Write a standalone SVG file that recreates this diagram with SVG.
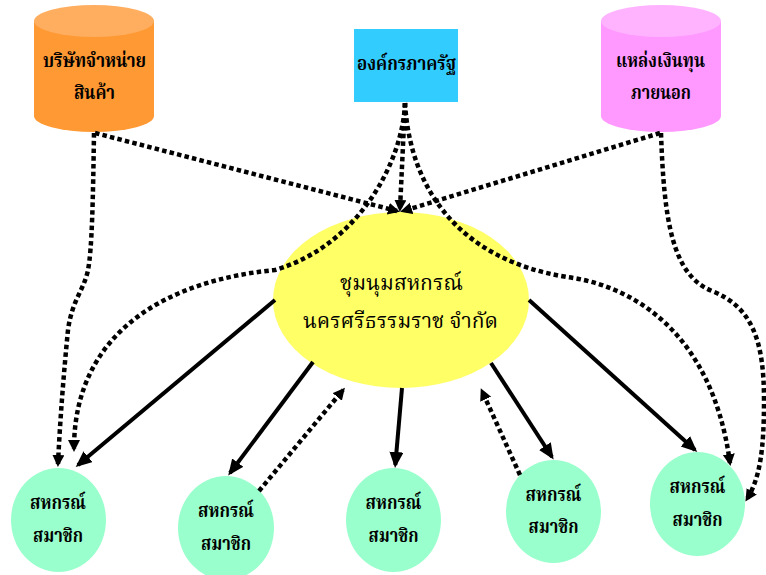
<svg xmlns="http://www.w3.org/2000/svg" width="766" height="575" viewBox="0 0 766 575">
<style>
.t{font-family:"Liberation Serif","Noto Serif Thai","Noto Sans Thai",serif;fill:#000;text-anchor:middle}
.b{font-weight:bold;font-size:20px}
.m{font-size:22px}
.s{fill:none;stroke:#000;stroke-width:4}
.d{fill:none;stroke:#000;stroke-width:4.5;stroke-dasharray:4.5 3.2}
</style>
<defs>
<marker id="as" markerUnits="userSpaceOnUse" markerWidth="18" markerHeight="16" refX="13" refY="7" orient="auto"><path d="M0,0 L16,7 L0,14 z" fill="#000"/></marker>
<marker id="ad" markerUnits="userSpaceOnUse" markerWidth="14" markerHeight="14" refX="9" refY="6" orient="auto"><path d="M0,0 L12,6 L0,12 z" fill="#000"/></marker>
</defs>
<g id="n-distributor">
<path d="M34,21 L34,116 A60,16 0 0 0 154,116 L154,21 z" fill="#FF9933"/>
<ellipse cx="94" cy="21" rx="60" ry="16" fill="#FFAD5E"/>
<text class="t b" x="94.5" y="67" textLength="103" lengthAdjust="spacingAndGlyphs">บริษัทจำหน่าย</text>
<text class="t b" x="94.5" y="99" textLength="41" lengthAdjust="spacingAndGlyphs">สินค้า</text>
</g>
<g id="n-government">
<rect x="354" y="29" width="104" height="73" fill="#33CCFF"/>
<text class="t b" x="406.5" y="70" textLength="99" lengthAdjust="spacingAndGlyphs">องค์กรภาครัฐ</text>
</g>
<g id="n-funding">
<path d="M601,21 L601,116 A60,16 0 0 0 721,116 L721,21 z" fill="#FF99FF"/>
<ellipse cx="661" cy="21" rx="60" ry="16" fill="#FFB3FF"/>
<text class="t b" x="660.5" y="67" textLength="89" lengthAdjust="spacingAndGlyphs">แหล่งเงินทุน</text>
<text class="t b" x="661" y="99" textLength="60" lengthAdjust="spacingAndGlyphs">ภายนอก</text>
</g>
<g id="n-federation">
<ellipse cx="401" cy="300" rx="128" ry="88" fill="#FFFF66"/>
<text class="t m" x="401.5" y="290" textLength="123" lengthAdjust="spacingAndGlyphs">ชุมนุมสหกรณ์</text>
<text class="t m" x="400.5" y="328" textLength="195" lengthAdjust="spacingAndGlyphs">นครศรีธรรมราช จำกัด</text>
</g>
<g id="n-member1">
<ellipse cx="58.5" cy="520" rx="47.5" ry="52" fill="#99FFCC"/>
<text class="t b" x="58" y="509" textLength="56" lengthAdjust="spacingAndGlyphs">สหกรณ์</text>
<text class="t b" x="58" y="542" textLength="50" lengthAdjust="spacingAndGlyphs">สมาชิก</text>
</g>
<g id="n-member2">
<ellipse cx="226" cy="528" rx="48" ry="52" fill="#99FFCC"/>
<text class="t b" x="226" y="517" textLength="56" lengthAdjust="spacingAndGlyphs">สหกรณ์</text>
<text class="t b" x="226" y="550" textLength="50" lengthAdjust="spacingAndGlyphs">สมาชิก</text>
</g>
<g id="n-member3">
<ellipse cx="393.5" cy="520" rx="47.5" ry="52" fill="#99FFCC"/>
<text class="t b" x="393.5" y="509" textLength="56" lengthAdjust="spacingAndGlyphs">สหกรณ์</text>
<text class="t b" x="393.5" y="542" textLength="50" lengthAdjust="spacingAndGlyphs">สมาชิก</text>
</g>
<g id="n-member4">
<ellipse cx="553.5" cy="511.5" rx="47.5" ry="51.5" fill="#99FFCC"/>
<text class="t b" x="553.5" y="501" textLength="56" lengthAdjust="spacingAndGlyphs">สหกรณ์</text>
<text class="t b" x="553.5" y="533" textLength="50" lengthAdjust="spacingAndGlyphs">สมาชิก</text>
</g>
<g id="n-member5">
<ellipse cx="697.5" cy="504" rx="47.5" ry="52" fill="#99FFCC"/>
<text class="t b" x="697.5" y="493" textLength="56" lengthAdjust="spacingAndGlyphs">สหกรณ์</text>
<text class="t b" x="697.5" y="526" textLength="50" lengthAdjust="spacingAndGlyphs">สมาชิก</text>
</g>
<g id="connectors">
<path class="s" marker-end="url(#as)" d="M275,300 L78,465"/>
<path class="s" marker-end="url(#as)" d="M313,362 L230,473"/>
<path class="s" marker-end="url(#as)" d="M402,388 L395.3,465"/>
<path class="s" marker-end="url(#as)" d="M491,363 L552,457"/>
<path class="s" marker-end="url(#as)" d="M529,300 L695,450"/>
<path class="d" marker-end="url(#ad)" d="M95,133 L397,211"/>
<path class="d" marker-end="url(#ad)" d="M405,103 L400,209"/>
<path class="d" marker-end="url(#ad)" d="M660,133 L403,211"/>
<path class="d" marker-end="url(#ad)" d="M94,133 C93,200 92,250 88,270 C84,290 72,300 68,330 C64,370 60,420 58,464"/>
<path class="d" marker-end="url(#ad)" d="M405,103 C403,160 360,245 275,270 C170,280 74,330 74,449"/>
<path class="d" marker-end="url(#ad)" d="M405,103 C410,190 460,260 567,277 C630,285 712,330 730,463"/>
<path class="d" marker-end="url(#ad)" d="M661,133 C664,220 672,275 712,291 C752,307 764,340 764,400 C764,450 760,478 747,499"/>
<path class="d" marker-end="url(#ad)" d="M259,491 L343,390"/>
<path class="d" marker-end="url(#ad)" d="M520,475 L482,391"/>
</g>
</svg>
